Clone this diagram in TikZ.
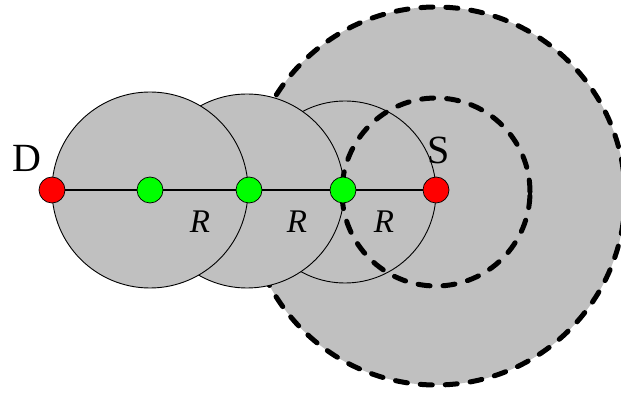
\documentclass[tikz,border=0pt]{standalone}
\usepackage{fontspec}
\setmainfont{Liberation Serif}
\definecolor{areagray}{RGB}{192,192,192}
\tikzset{
  disk/.style={fill=areagray, draw=black, line width=0.9pt},
  radiorange/.style={draw=black, line width=5pt, line cap=round, dash pattern=on 12pt off 13pt},
  endnode/.style={circle, fill=red, draw=black, line width=0.7pt, minimum size=26pt, inner sep=0pt},
  relay/.style={circle, fill=green, draw=black, line width=0.7pt, minimum size=26pt, inner sep=0pt},
  lbl/.style={font=\fontsize{40}{40}\selectfont, inner sep=0pt},
  rlbl/.style={font=\fontsize{33}{33}\selectfont\itshape, inner sep=0pt},
}
\begin{document}
\begin{tikzpicture}[x=1pt,y=-1pt]
\useasboundingbox (0,0) rectangle (621,395);
\clip (0,0) rectangle (621,395);
% large transmission range of S
\fill[areagray] (436,196) circle[radius=189pt];
\draw[radiorange] (436,196) circle[radius=189pt];
% hop disks
\draw[disk] (345,192) circle[radius=91pt];
\draw[disk] (247,191) circle[radius=97pt];
\draw[disk] (150,190) circle[radius=98pt];
% small range of S
\draw[radiorange] (436,192) circle[radius=94pt];
% nodes
\node[endnode] (D) at (52,190) {};
\node[relay] (G1) at (150,190) {};
\node[relay] (G2) at (249,190) {};
\node[relay] (G3) at (343,190) {};
\node[endnode] (S) at (436,190) {};
% connectors
\draw[line width=1.3pt] (D) -- (G1);
\draw[line width=2.8pt] (G1) -- (G2);
\draw[line width=2.8pt] (G2) -- (G3);
\draw[line width=2.8pt] (G3) -- (S);
% labels
\node[lbl] (Dl) at (27,158) {D};
\node[lbl] (Sl) at (439,150) {S};
\node[rlbl] (R1) at (200,222) {R};
\node[rlbl] (R2) at (297,222) {R};
\node[rlbl] (R3) at (384,222) {R};
\end{tikzpicture}
\end{document}
